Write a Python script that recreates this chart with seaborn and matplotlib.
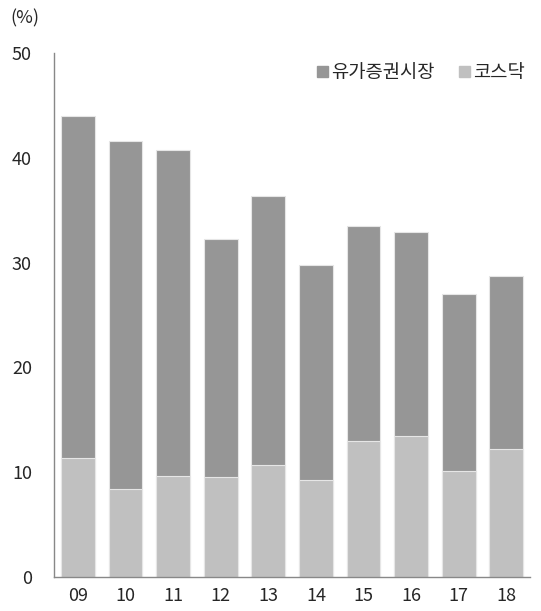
import matplotlib.pyplot as plt
import seaborn as sns
import pandas as pd
from matplotlib.patches import Patch

years = ['09', '10', '11', '12', '13', '14', '15', '16', '17', '18']
kospi = [32.7, 33.2, 31.2, 22.8, 25.7, 20.6, 20.5, 19.5, 16.9, 16.5]
kosdaq = [11.3, 8.4, 9.6, 9.5, 10.7, 9.2, 13.0, 13.4, 10.1, 12.2]

df = pd.DataFrame({'year': years, 'kospi': kospi, 'kosdaq': kosdaq})
df['total'] = df['kospi'] + df['kosdaq']

sns.set_style('white')
plt.rcParams['font.family'] = ['Noto Sans CJK KR', 'DejaVu Sans']

dark = '#969696'
light = '#c0c0c0'

fig = plt.figure(figsize=(5.41, 6.11), dpi=100)
ax = fig.add_axes([0.1, 0.056, 0.88, 0.857])

sns.barplot(data=df, x='year', y='total', color=dark, width=0.71,
            saturation=1, ax=ax)
sns.barplot(data=df, x='year', y='kosdaq', color=light, width=0.71,
            saturation=1, ax=ax)
for p in ax.patches:
    p.set_edgecolor('#e6e6e6')
    p.set_linewidth(0.8)

ax.set_ylim(0, 50)
ax.set_xlim(-0.5, len(years) - 0.5)
ax.set_yticks([0, 10, 20, 30, 40, 50])
ax.set_xlabel('')
ax.set_ylabel('')

for s in ['top', 'right']:
    ax.spines[s].set_visible(False)
for s in ['left', 'bottom']:
    ax.spines[s].set_color('#888888')
    ax.spines[s].set_linewidth(1)

# x ticks sit between categories
ax.set_xticks([i - 0.5 for i in range(len(years) + 1)], minor=True)
ax.tick_params(axis='x', which='minor', length=5, color='#888888', width=1)
ax.tick_params(axis='x', which='major', length=0, pad=7, labelsize=13)
ax.tick_params(axis='y', length=5, color='#888888', width=1, labelsize=13, pad=11)

handles = [Patch(color=dark, label='유가증권시장'), Patch(color=light, label='코스닥')]
ax.legend(handles=handles, loc='upper right', bbox_to_anchor=(1.025, 1.015), ncol=2,
          frameon=False, fontsize=13.5, handlelength=0.55, handleheight=0.55,
          handletextpad=0.2, columnspacing=1.3)

fig.text(0.02, 0.97, '(%)', fontsize=13, va='center', ha='left')

fig.savefig('out.png', dpi=100)
